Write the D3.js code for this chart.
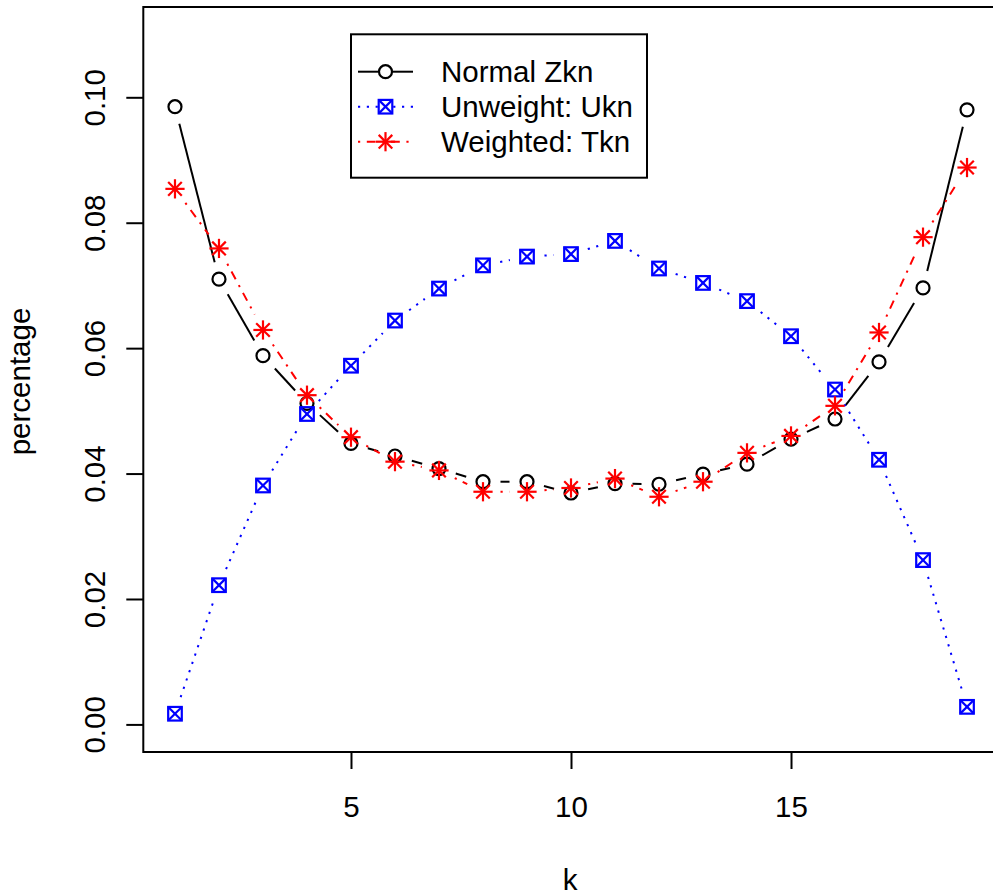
<!DOCTYPE html>
<html>
<head>
<meta charset="utf-8">
<script src="https://cdn.jsdelivr.net/npm/d3@7"></script>
<style>
  html, body { margin: 0; padding: 0; background: #fff; }
  svg { display: block; font-family: "Liberation Sans", Arial, Helvetica, sans-serif; }
</style>
</head>
<body>
<svg id="chart" width="993" height="896"></svg>
<script>
// k = 1..19
const categories = d3.range(1, 20);
const normalZkn   = [0.0985, 0.0710, 0.0588, 0.0512, 0.0448, 0.0428, 0.0408, 0.0387, 0.0387, 0.0369,
                     0.0384, 0.0383, 0.0399, 0.0415, 0.0455, 0.0487, 0.0578, 0.0696, 0.0980];
const unweightUkn = [0.0017, 0.0222, 0.0381, 0.0495, 0.0572, 0.0644, 0.0695, 0.0732, 0.0746, 0.0750,
                     0.0771, 0.0727, 0.0704, 0.0675, 0.0619, 0.0534, 0.0422, 0.0262, 0.0028];
const weightedTkn = [0.0854, 0.0759, 0.0629, 0.0525, 0.0458, 0.0419, 0.0405, 0.0371, 0.0371, 0.0377,
                     0.0392, 0.0363, 0.0387, 0.0433, 0.0460, 0.0508, 0.0625, 0.0777, 0.0888];
const xTicks = [5, 10, 15];
const yTicks = [0.00, 0.02, 0.04, 0.06, 0.08, 0.10];
const seriesNames = ["Normal Zkn", "Unweight: Ukn", "Weighted: Tkn"];

const svg = d3.select("#chart");
const FONT = 29.5;
const LW = 2;           // line width of connecting lines
const SW = 2.2;         // line width of symbols
const U = 2.2;          // dash unit
const R = 6.8;          // symbol radius
const GAP = 17.5;       // gap around points on connecting lines

// plot region (x padded 4% around 1..19, y padded 4% around 0..0.11)
const plotL = 143.3, plotR = 998.7, plotT = 7, plotB = 752;
const x = d3.scaleLinear().domain([1 - 0.72, 19 + 0.72]).range([plotL, plotR]);
const y = d3.scaleLinear().domain([-0.0044, 0.1144]).range([plotB, plotT]);

const series = [
  { name: seriesNames[0], values: normalZkn,   color: "#000000", dash: null,                               pch: "circle" },
  { name: seriesNames[1], values: unweightUkn, color: "#0000FF", dash: [U, 3 * U].join(","),               pch: "boxx" },
  { name: seriesNames[2], values: weightedTkn, color: "#FF0000", dash: [U, 3 * U, 4 * U, 3 * U].join(","), pch: "star" }
];

function drawSymbol(g, type, cx, cy, color) {
  const s = g.append("g").attr("transform", `translate(${cx},${cy})`)
    .attr("stroke", color).attr("stroke-width", SW).attr("fill", "none");
  if (type === "circle") {
    s.append("circle").attr("r", R - 0.3);
  } else if (type === "boxx") {
    s.append("rect").attr("x", -R).attr("y", -R).attr("width", 2 * R).attr("height", 2 * R);
    s.append("line").attr("x1", -R).attr("y1", -R).attr("x2", R).attr("y2", R);
    s.append("line").attr("x1", -R).attr("y1", R).attr("x2", R).attr("y2", -R);
  } else if (type === "star") {
    const p = R * Math.SQRT2;
    s.append("line").attr("x1", -R).attr("y1", -R).attr("x2", R).attr("y2", R);
    s.append("line").attr("x1", -R).attr("y1", R).attr("x2", R).attr("y2", -R);
    s.append("line").attr("x1", -p).attr("y1", 0).attr("x2", p).attr("y2", 0);
    s.append("line").attr("x1", 0).attr("y1", -p).attr("x2", 0).attr("y2", p);
  }
}

// series: points joined by segments that stop short of each point
const plot = svg.append("g");
series.forEach(sr => {
  const g = plot.append("g");
  const pts = sr.values.map((v, i) => [x(categories[i]), y(v)]);
  for (let i = 0; i < pts.length - 1; i++) {
    const [x0, y0] = pts[i], [x1, y1] = pts[i + 1];
    const dx = x1 - x0, dy = y1 - y0, d = Math.hypot(dx, dy);
    if (d <= 2 * GAP) continue;
    const ux = dx / d, uy = dy / d;
    const ln = g.append("line")
      .attr("x1", x0 + ux * GAP).attr("y1", y0 + uy * GAP)
      .attr("x2", x1 - ux * GAP).attr("y2", y1 - uy * GAP)
      .attr("stroke", sr.color).attr("stroke-width", LW);
    if (sr.dash) ln.attr("stroke-dasharray", sr.dash);
  }
  pts.forEach(([px, py]) => drawSymbol(g, sr.pch, px, py, sr.color));
});

// frame
svg.append("rect")
  .attr("x", plotL).attr("y", plotT).attr("width", plotR - plotL).attr("height", plotB - plotT)
  .attr("fill", "none").attr("stroke", "#000").attr("stroke-width", 2);

// x axis
const xAxis = d3.axisBottom(x).tickValues(xTicks).tickSize(17).tickPadding(0).tickFormat(d3.format("d"));
const gx = svg.append("g").attr("transform", `translate(0,${plotB})`).call(xAxis);
gx.select(".domain").remove();
gx.selectAll(".tick line").attr("stroke", "#000").attr("stroke-width", 2);
gx.selectAll(".tick text").attr("font-size", FONT).attr("fill", "#000")
  .attr("dy", null).attr("y", 65).attr("font-family", "Liberation Sans, Arial, sans-serif");

// y axis
const yAxis = d3.axisLeft(y).tickValues(yTicks).tickSize(17).tickFormat(d3.format(".2f"));
const gy = svg.append("g").attr("transform", `translate(${plotL},0)`).call(yAxis);
gy.select(".domain").remove();
gy.selectAll(".tick line").attr("stroke", "#000").attr("stroke-width", 2);
gy.selectAll(".tick text").attr("font-size", FONT).attr("fill", "#000")
  .attr("x", null).attr("dy", null).attr("text-anchor", "middle")
  .attr("transform", "translate(-38.5,0) rotate(-90)")
  .attr("font-family", "Liberation Sans, Arial, sans-serif");

// axis titles
svg.append("text").attr("x", (plotL + plotR) / 2 - 1).attr("y", 890)
  .attr("text-anchor", "middle").attr("font-size", FONT).text("k");
svg.append("text").attr("transform", `translate(30,${(plotT + plotB) / 2 + 2}) rotate(-90)`)
  .attr("text-anchor", "middle").attr("font-size", FONT).text("percentage");

// legend
const lg = svg.append("g");
lg.append("rect").attr("x", 351).attr("y", 34.3).attr("width", 296).attr("height", 143.4)
  .attr("fill", "#fff").attr("stroke", "#000").attr("stroke-width", 2);
series.forEach((sr, i) => {
  const ry = 71.7 + i * 35;
  const cx = 385.5;
  if (sr.pch === "circle") {
    lg.append("line").attr("x1", 358).attr("x2", cx - R - 0.5).attr("y1", ry).attr("y2", ry)
      .attr("stroke", sr.color).attr("stroke-width", LW);
    lg.append("line").attr("x1", cx + R + 0.5).attr("x2", 413).attr("y1", ry).attr("y2", ry)
      .attr("stroke", sr.color).attr("stroke-width", LW);
  } else {
    lg.append("line").attr("x1", 358).attr("x2", 413).attr("y1", ry).attr("y2", ry)
      .attr("stroke", sr.color).attr("stroke-width", LW).attr("stroke-dasharray", sr.dash);
  }
  drawSymbol(lg, sr.pch, cx, ry, sr.color);
  lg.append("text").attr("x", 441).attr("y", ry + 10).attr("font-size", FONT).text(sr.name);
});
</script>
</body>
</html>
